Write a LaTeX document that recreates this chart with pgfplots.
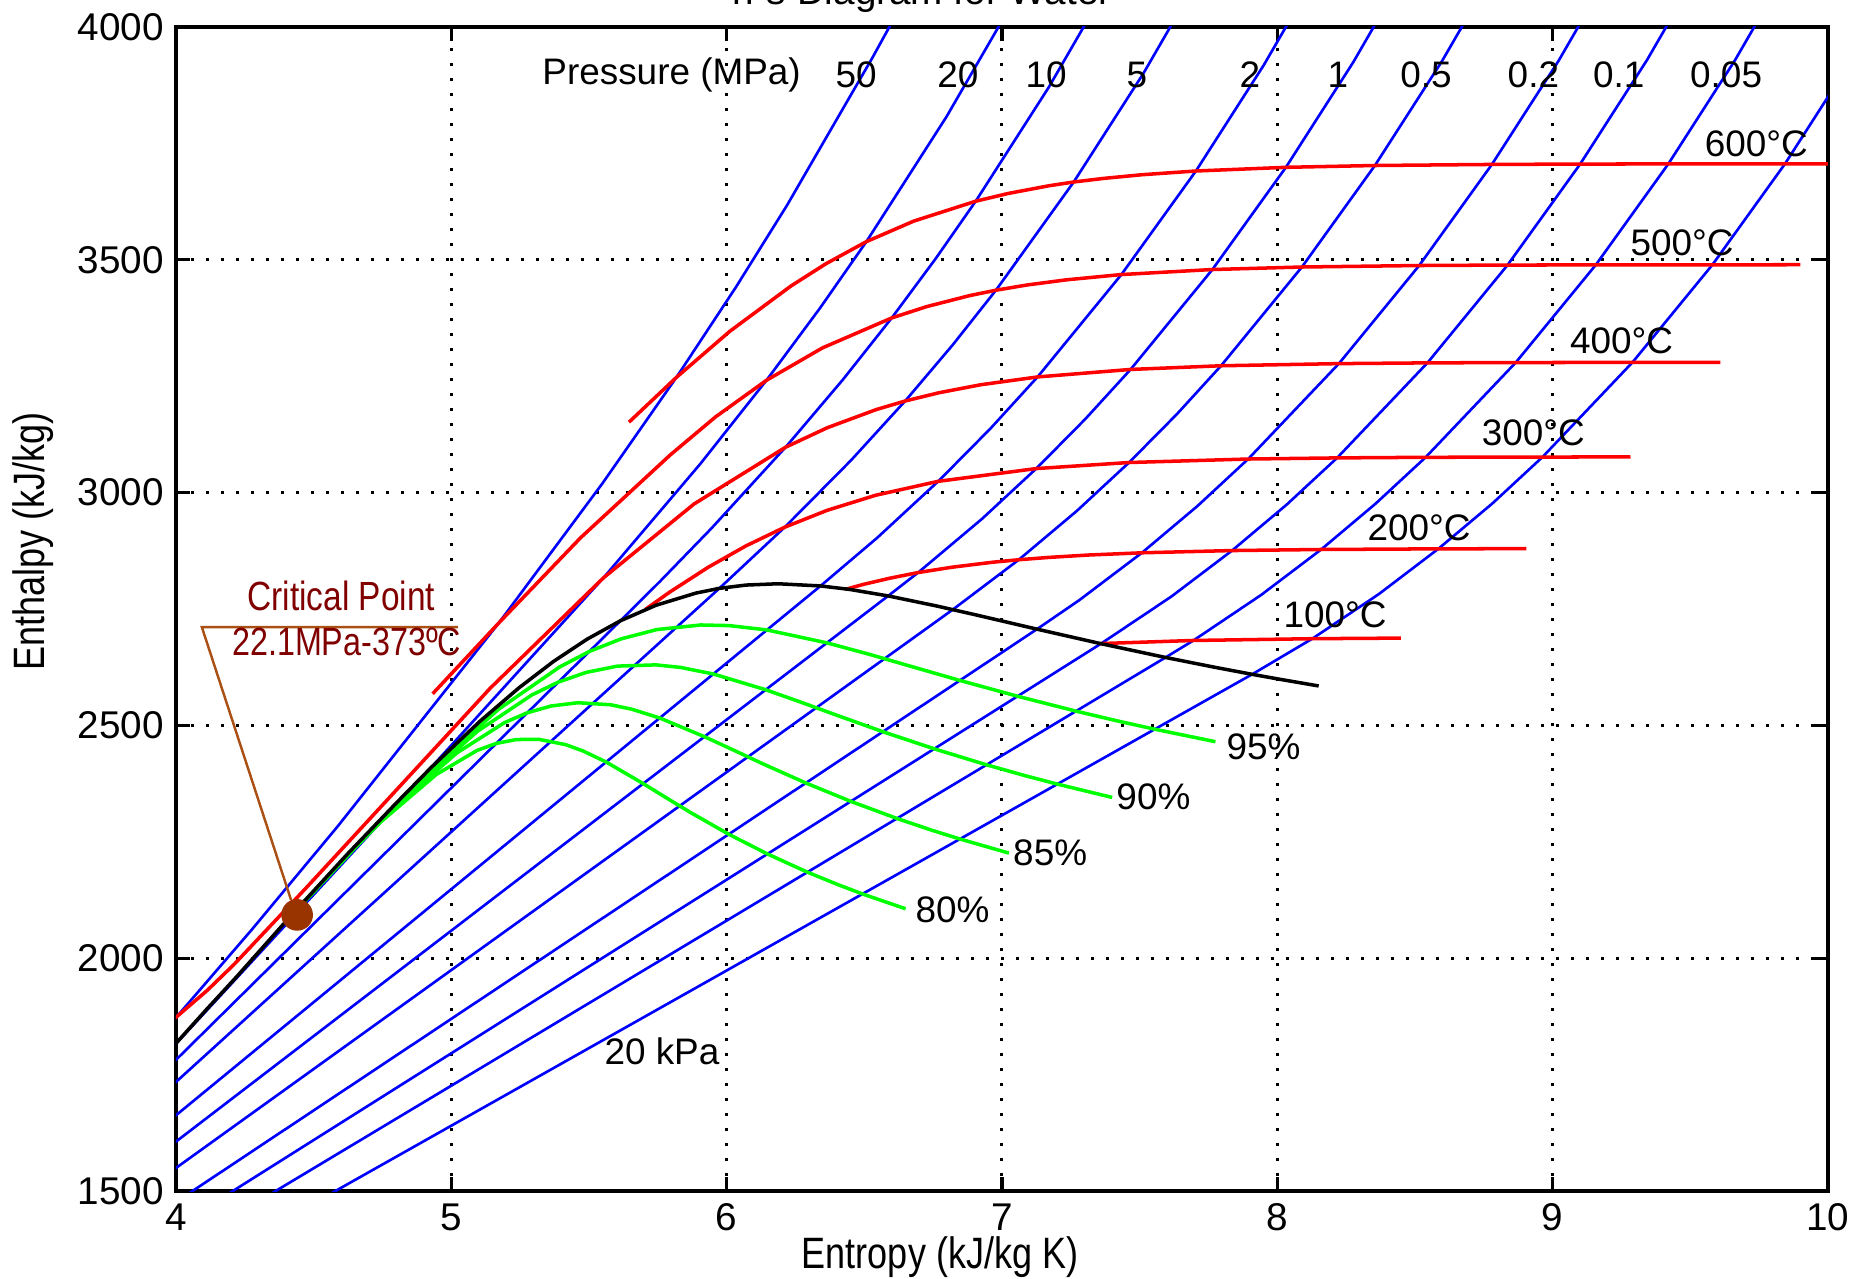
\documentclass[border=0pt]{standalone}
\usepackage{pgfplots}
\pgfplotsset{compat=1.18}
\usepackage{fontspec}
\setmainfont{Liberation Sans}
\newfontfamily\narrowfont{Liberation Sans}[FakeStretch=0.82]
\definecolor{critred}{RGB}{128,0,0}
\definecolor{critbrown}{RGB}{153,51,0}
\definecolor{leader}{RGB}{170,80,20}
\begin{document}
\begin{tikzpicture}
\path[use as bounding box] (-1.76cm,-0.88cm) rectangle (16.89cm,11.91cm);
\begin{axis}[
  at={(0,0)}, anchor=south west,
  scale only axis, width=16.52cm, height=11.64cm,
  xmin=4, xmax=10, ymin=1500, ymax=4000,
  xtick={4,5,6,7,8,9,10},
  ytick={1500,2000,2500,3000,3500,4000},
  grid=major,
  major grid style={black, line width=0.03cm, dash pattern=on 0.03cm off 0.12cm},
  axis line style={black, line width=1.1pt},
  tick align=inside,
  major tick length=0.14cm,
  every tick/.style={black, line width=0.9pt},
  tick label style={font=\fontsize{11}{13}\selectfont},
  /pgf/number format/assume math mode=true,
  /pgf/number format/1000 sep={},
  clip mode=individual,
  xlabel={Entropy (kJ/kg K)},
  xlabel style={at={(axis description cs:0.4625,-0.0568)}, anchor=center, font=\narrowfont\fontsize{12.5}{14}\selectfont},
  ylabel={Enthalpy (kJ/kg)},
  ylabel style={at={(axis description cs:-0.0866,0.558)}, anchor=center, font=\narrowfont\fontsize{12.5}{14}\selectfont},
]
% ---------------- isobars (blue) ----------------
\pgfplotsset{iso/.style={blue, line width=0.75pt}}
% 50 MPa
\addplot[iso] coordinates {(3.7639,1716.6) (4.0031,1874.6) (4.2734,2060.0) (4.5884,2284.0) (5.1726,2720.1) (5.5485,3019.5) (5.8177,3247.6) (6.0342,3441.8) (6.2190,3616.8) (6.5290,3933.6) (6.6840,4100)};
% 20 MPa
\addplot[iso] coordinates {(3.9500,1785.5) (4.0154,1826.3) (4.9269,2409.7) (5.5525,2816.9) (5.9043,3061.7) (6.1446,3241.2) (6.3390,3396.2) (6.5075,3539.0) (6.7990,3807.8) (7.0531,4067.5)};
% 10 MPa
\addplot[iso] coordinates {(3.9000,1723.3) (5.6141,2724.7) (5.7596,2810.3) (5.9460,2924.0) (6.2141,3097.5) (6.4219,3242.4) (6.5995,3375.1) (6.7585,3502.0) (6.9045,3625.8) (7.1693,3870.0) (7.4085,4114.5)};
% 5 MPa
\addplot[iso] coordinates {(3.9000,1680.5) (5.9734,2794.3) (6.2110,2925.7) (6.4516,3069.3) (6.6483,3196.7) (6.8210,3317.2) (6.9781,3434.7) (7.2605,3667.1) (7.5136,3900.3) (7.7458,4137.7)};
% 2 MPa
\addplot[iso] coordinates {(3.9000,1614.1) (6.3409,2799.5) (6.5475,2903.3) (6.7684,3024.2) (6.9583,3137.7) (7.1292,3248.4) (7.4337,3468.3) (7.7043,3690.7) (7.9509,3918.2) (8.1791,4151.2)};
% 1 MPa
\addplot[iso] coordinates {(3.9000,1560.8) (6.5865,2778.1) (6.6956,2828.3) (6.9265,2943.1) (7.1246,3051.6) (7.3029,3158.2) (7.4670,3264.5) (7.7642,3479.1) (8.0311,3698.6) (8.2755,3924.1) (8.5024,4156.1)};
% 0.5 MPa
\addplot[iso] coordinates {(3.8500,1485.7) (6.8213,2748.7) (7.0610,2855.8) (7.2725,2961.0) (7.4614,3064.6) (7.6346,3168.1) (7.7956,3272.4) (8.0893,3484.5) (8.3544,3702.5) (8.5978,3926.4) (8.8240,4157.4)};
% 0.2 MPa
\addplot[iso] coordinates {(3.9331,1450) (7.1271,2706.7) (7.2810,2769.1) (7.5081,2870.7) (7.7100,2971.2) (7.8941,3072.1) (8.2236,3277.0) (8.5153,3487.7) (8.7793,3704.8) (9.0221,3928.0) (9.2479,4158.8)};
% 0.1 MPa
\addplot[iso] coordinates {(4.0725,1450) (7.3594,2675.5) (7.6148,2776.6) (7.8356,2875.5) (8.0346,2974.5) (8.2171,3074.5) (8.5452,3278.6) (8.8362,3488.7) (9.0999,3705.6) (9.3424,3928.8) (9.5682,4159.2)};
% 0.05 MPa
\addplot[iso] coordinates {(4.2210,1450) (7.5939,2645.9) (7.6953,2682.4) (7.9413,2780.2) (8.1592,2877.8) (8.3568,2976.2) (8.5386,3075.8) (8.8659,3279.3) (9.1566,3489.0) (9.4201,3705.9) (9.6626,3929.0) (9.8880,4159.3)};
% 0.02 MPa
\addplot[iso] coordinates {(4.4291,1450) (7.9085,2609.7) (8.1270,2686.2) (8.3689,2782.1) (8.5847,2879.2) (8.7817,2977.0) (8.9630,3076.3) (9.2897,3279.6) (9.5801,3489.2) (9.8437,3706.0) (10.0860,3929.1)};
% ---------------- isotherms (red) ----------------
\pgfplotsset{ith/.style={red, line width=1.0pt}}
% 100 C
\addplot[ith] coordinates {(7.3542,2675.6) (7.3611,2675.8) (7.6953,2682.4) (8.1270,2686.2) (8.4489,2687.5)};
% 200 C
\addplot[ith] coordinates {(6.4302,2792.0) (6.4975,2803.0) (6.5909,2815.9) (6.6956,2828.3) (6.8177,2839.7) (6.9683,2850.6) (7.0610,2855.8) (7.1723,2860.9) (7.3132,2865.9) (7.5081,2870.7) (7.8356,2875.5) (8.1592,2877.8) (8.5847,2879.2) (8.9049,2879.6)};
% 300 C
\addplot[ith] coordinates {(5.7059,2749.6) (5.7938,2786.5) (5.9337,2839.9) (6.0703,2885.6) (6.2110,2925.7) (6.3639,2961.7) (6.5412,2994.3) (6.7684,3024.2) (7.1246,3051.6) (7.4614,3064.6) (7.8941,3072.1) (8.2171,3074.5) (8.5386,3075.8) (8.9630,3076.3) (9.2827,3076.7)};
% 400 C
\addplot[ith] coordinates {(3.9318,1843.4) (4.0031,1874.6) (4.1135,1930.9) (4.2126,1987.6) (4.4728,2151.1) (5.1418,2580.2) (5.5525,2816.9) (5.8819,2975.7) (6.2141,3097.5) (6.3658,3139.4) (6.5432,3178.3) (6.6483,3196.7) (6.7714,3214.5) (6.9235,3231.7) (7.1292,3248.4) (7.4670,3264.5) (7.7956,3272.4) (8.2236,3277.0) (8.5452,3278.6) (8.8659,3279.3) (9.2897,3279.6) (9.6094,3279.9)};
% 500 C
\addplot[ith] coordinates {(4.9321,2567.9) (5.1726,2720.1) (5.4700,2903.3) (5.7956,3081.1) (5.9592,3162.4) (6.1446,3241.2) (6.3480,3310.8) (6.5995,3375.1) (6.7266,3399.5) (6.8826,3423.1) (6.9781,3434.7) (7.0922,3446.0) (7.2345,3457.0) (7.4337,3468.3) (7.7642,3479.1) (8.0893,3484.5) (8.5153,3487.7) (8.8362,3488.7) (9.1566,3489.0) (9.5801,3489.2) (9.8998,3489.4)};
% 600 C
\addplot[ith] coordinates {(5.6452,3151.2) (5.8177,3247.6) (6.0114,3346.4) (6.2340,3443.9) (6.3602,3491.4) (6.5075,3539.0) (6.6796,3583.1) (6.9045,3625.8) (7.0221,3642.4) (7.1706,3659.0) (7.2605,3667.1) (7.3706,3674.9) (7.5103,3682.8) (7.7043,3690.7) (8.0311,3698.6) (8.3544,3702.5) (8.7793,3704.8) (9.0999,3705.6) (9.4201,3705.9) (9.8437,3706.0) (10.1631,3706.3)};
% ---------------- quality lines (green) ----------------
\pgfplotsset{qual/.style={green, line width=1.0pt}}
% 95 %
\addplot[qual] coordinates {(4.407,2084.3) (4.764,2310) (4.8813,2380.5) (5.1705,2534.2) (5.3926,2625.2) (5.5013,2658.8) (5.6164,2685.8) (5.7461,2705.8) (5.9064,2715.7) (6.0098,2714.3) (6.1462,2705.0) (6.3641,2677.3) (6.5186,2652.6) (6.6399,2631.8) (6.8473,2596.5) (7.0566,2562.6) (7.2688,2530.6) (7.4274,2508.5) (7.5548,2491.8) (7.7752,2465.0)};
% 90 %
\addplot[qual] coordinates {(4.407,2084.3) (4.729,2288) (4.8356,2351.4) (5.0955,2487.6) (5.2928,2565.5) (5.3886,2593.0) (5.4896,2613.8) (5.6030,2627.3) (5.7427,2630.0) (5.8328,2624.5) (5.9516,2610.4) (6.1417,2576.6) (6.2771,2548.3) (6.3840,2525.2) (6.5674,2486.4) (6.7537,2449.7) (6.9436,2415.4) (7.0861,2391.7) (7.2009,2373.9) (7.4001,2345.3)};
% 85 %
\addplot[qual] coordinates {(4.407,2084.3) (4.695,2266) (4.7900,2322.2) (5.0205,2441.1) (5.1930,2505.9) (5.2758,2527.1) (5.3627,2541.7) (5.4598,2548.7) (5.5790,2544.3) (5.6557,2534.7) (5.7569,2515.9) (5.9193,2475.8) (6.0357,2444.0) (6.1280,2418.4) (6.2876,2376.3) (6.4509,2336.8) (6.6185,2300.1) (6.7449,2274.9) (6.8471,2256.0) (7.0251,2225.7)};
% 80 %
\addplot[qual] coordinates {(4.407,2084.3) (4.661,2244) (4.7443,2293.0) (4.9455,2394.6) (5.0932,2446.2) (5.1631,2461.3) (5.2359,2469.6) (5.3167,2470.2) (5.4154,2458.6) (5.4787,2445.0) (5.5622,2421.4) (5.6969,2375.0) (5.7942,2339.6) (5.8720,2311.8) (6.0077,2266.2) (6.1480,2223.9) (6.2933,2184.8) (6.4037,2158.1) (6.4933,2138.0) (6.6500,2106.1)};
% ---------------- saturation curve (black) ----------------
\addplot[black, line width=1.0pt] coordinates {(3.8715,1732.0) (3.9400,1777.0) (4.0139,1826.3) (4.1110,1890.0) (4.2200,1960.0) (4.4070,2084.3) (4.6200,2222.0) (4.7980,2332.0) (4.9269,2409.7) (5.1044,2509.1) (5.2455,2580.6) (5.3717,2637.6) (5.4924,2684.9) (5.6141,2724.7) (5.7432,2758.0) (5.8892,2784.3) (5.9734,2794.3) (6.0701,2801.4) (6.1869,2804.2) (6.3409,2799.5) (6.4448,2792.2) (6.5865,2778.1) (6.7600,2756.8) (6.8959,2738.6) (7.1271,2706.7) (7.3594,2675.5) (7.5939,2645.9) (7.7686,2625.3) (7.9085,2609.7) (8.0085,2599.1) (8.1502,2584.7)};
% ---------------- critical point ----------------
\addplot[leader, line width=0.7pt] coordinates {(4.418,2125) (4.094,2711) (5.024,2711)};
\addplot[only marks, mark=*, mark size=4.3pt, mark options={fill=critbrown, draw=critbrown}] coordinates {(4.44,2093)};
\node[critred, font=\narrowfont\fontsize{11.6}{13}\selectfont] at (axis cs:4.60,2778) {Critical Point};
\node[critred, font=\narrowfont\fontsize{11.2}{13}\selectfont] at (axis cs:4.62,2679) {22.1MPa-373ºC};
% ---------------- labels ----------------
\begin{scope}[every node/.style={font=\fontsize{10.5}{12}\selectfont, inner sep=0pt}]
\node at (axis cs:5.80,3897) {Pressure (MPa)};
\node at (axis cs:6.47,3897) {50};
\node at (axis cs:6.84,3897) {20};
\node at (axis cs:7.16,3897) {10};
\node at (axis cs:7.49,3897) {5};
\node at (axis cs:7.90,3897) {2};
\node at (axis cs:8.22,3897) {1};
\node at (axis cs:8.54,3897) {0.5};
\node at (axis cs:8.93,3897) {0.2};
\node at (axis cs:9.24,3897) {0.1};
\node at (axis cs:9.63,3897) {0.05};
\node at (axis cs:9.74,3749) {600°C};
\node at (axis cs:9.47,3536) {500°C};
\node at (axis cs:9.25,3326) {400°C};
\node at (axis cs:8.93,3128) {300°C};
\node at (axis cs:8.515,2924) {200°C};
\node at (axis cs:8.21,2737) {100°C};
\node at (axis cs:7.95,2454) {95\%};
\node at (axis cs:7.55,2346) {90\%};
\node at (axis cs:7.175,2226) {85\%};
\node at (axis cs:6.82,2103) {80\%};
\node at (axis cs:5.765,1800) {20 kPa};
\end{scope}
\end{axis}
\node[anchor=base, font=\fontsize{11}{13}\selectfont, inner sep=0pt] at (7.46cm,11.86cm) {h-s Diagram for Water};
\end{tikzpicture}
\end{document}
